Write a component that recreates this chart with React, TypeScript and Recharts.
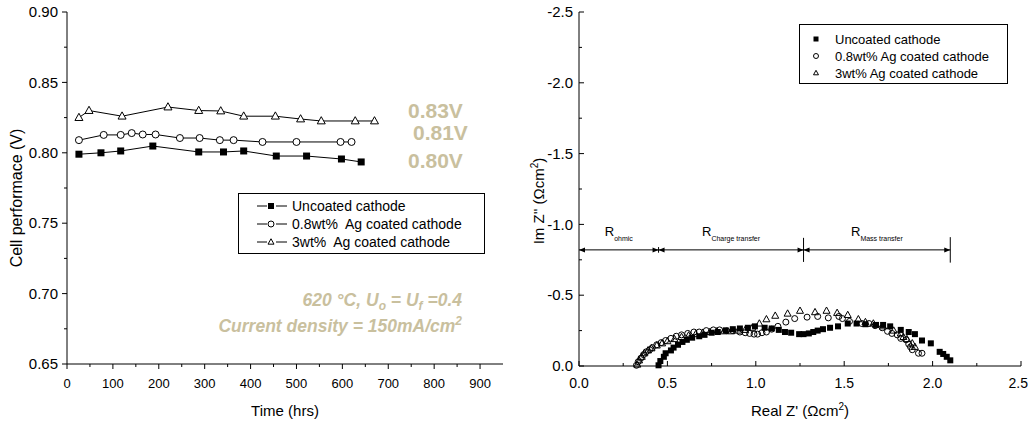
import React from 'react';
import { ScatterChart, Scatter, XAxis, YAxis, ReferenceLine, Legend } from 'recharts';

const FONT = '"Liberation Sans", Arial, Helvetica, sans-serif';
const TAN = '#c9c09e';
const INK = '#000';

// ---- left panel: cell voltage vs operating time ----
const uncoatedHours = [26, 74, 117, 187, 287, 341, 385, 456, 522, 598, 641];
const uncoatedVolts = [0.799, 0.8, 0.8013, 0.8048, 0.8006, 0.8006, 0.8013, 0.7977, 0.7977, 0.7956, 0.7935];
const ag08Hours = [26, 80, 117, 141, 165, 193, 246, 289, 333, 363, 426, 500, 596, 620];
const ag08Volts = [0.809, 0.8127, 0.8127, 0.814, 0.813, 0.813, 0.8105, 0.8105, 0.809, 0.809, 0.8077, 0.8077, 0.8077, 0.8077];
const ag3Hours = [26, 48, 120, 220, 287, 335, 385, 454, 509, 554, 628, 670];
const ag3Volts = [0.825, 0.83, 0.826, 0.8325, 0.83, 0.8297, 0.826, 0.826, 0.824, 0.8226, 0.8226, 0.8226];

const timeTicks = [0, 50, 100, 150, 200, 250, 300, 350, 400, 450, 500, 550, 600, 650, 700, 750, 800, 850, 900];
const voltTicks = [0.65, 0.675, 0.7, 0.725, 0.75, 0.775, 0.8, 0.825, 0.85, 0.875, 0.9];

// ---- right panel: impedance spectra ----
const uncoatedReal = [0.45, 0.46, 0.48, 0.49, 0.52, 0.535, 0.56, 0.585, 0.61, 0.64, 0.68, 0.71, 0.75, 0.785, 0.83, 0.87, 0.91, 0.955, 0.995, 1.05, 1.09, 1.13, 1.165, 1.2, 1.245, 1.27, 1.3, 1.325, 1.35, 1.38, 1.42, 1.465, 1.52, 1.57, 1.62, 1.68, 1.72, 1.76, 1.82, 1.865, 1.9, 1.94, 1.99, 2.04, 2.06, 2.08, 2.1];
const uncoatedImag = [-0.005, -0.035, -0.065, -0.09, -0.11, -0.13, -0.15, -0.17, -0.185, -0.2, -0.21, -0.22, -0.235, -0.24, -0.25, -0.26, -0.265, -0.27, -0.28, -0.27, -0.265, -0.255, -0.24, -0.235, -0.225, -0.225, -0.23, -0.24, -0.25, -0.26, -0.27, -0.28, -0.3, -0.3, -0.295, -0.29, -0.29, -0.28, -0.255, -0.24, -0.225, -0.18, -0.16, -0.1, -0.085, -0.065, -0.04];
const ag08Real = [0.325, 0.335, 0.35, 0.365, 0.38, 0.4, 0.415, 0.44, 0.465, 0.49, 0.52, 0.55, 0.58, 0.615, 0.65, 0.68, 0.72, 0.76, 0.795, 0.835, 0.87, 0.91, 0.94, 0.965, 0.99, 1.01, 1.035, 1.06, 1.09, 1.125, 1.17, 1.22, 1.29, 1.35, 1.41, 1.47, 1.49, 1.53, 1.6, 1.64, 1.675, 1.715, 1.745, 1.77, 1.8, 1.82, 1.85, 1.865, 1.875, 1.885, 1.92, 1.94];
const ag08Imag = [-0.005, -0.03, -0.055, -0.08, -0.1, -0.115, -0.13, -0.15, -0.165, -0.18, -0.195, -0.21, -0.22, -0.23, -0.24, -0.24, -0.25, -0.255, -0.255, -0.25, -0.25, -0.24, -0.235, -0.23, -0.225, -0.225, -0.235, -0.24, -0.26, -0.28, -0.31, -0.335, -0.345, -0.35, -0.34, -0.35, -0.335, -0.315, -0.3, -0.3, -0.285, -0.27, -0.245, -0.23, -0.22, -0.195, -0.185, -0.155, -0.135, -0.115, -0.09, -0.09];
const ag3Real = [0.33, 0.34, 0.355, 0.37, 0.39, 0.41, 0.44, 0.47, 0.5, 0.54, 0.58, 0.62, 0.66, 0.7, 0.74, 0.78, 0.82, 0.86, 0.9, 0.94, 0.98, 1.02, 1.06, 1.11, 1.18, 1.25, 1.335, 1.4, 1.46, 1.52, 1.58, 1.62, 1.665, 1.72, 1.78, 1.82, 1.835, 1.855, 1.885, 1.9];
const ag3Imag = [-0.01, -0.04, -0.065, -0.09, -0.11, -0.125, -0.145, -0.16, -0.175, -0.19, -0.205, -0.215, -0.225, -0.235, -0.24, -0.245, -0.245, -0.245, -0.25, -0.255, -0.27, -0.3, -0.33, -0.355, -0.37, -0.39, -0.38, -0.39, -0.375, -0.36, -0.33, -0.31, -0.3, -0.28, -0.25, -0.23, -0.205, -0.19, -0.16, -0.135];

const realTicks = [0, 0.25, 0.5, 0.75, 1, 1.25, 1.5, 1.75, 2, 2.25, 2.5];
const imagTicks = [-2.5, -2.25, -2, -1.75, -1.5, -1.25, -1, -0.75, -0.5, -0.25, 0];

// resistance spans drawn above the arcs
const spanEdges = [0, 0.45, 1.27, 2.1];
const spanNames = ['ohmic', 'Charge transfer', 'Mass transfer'];
const spanLevel = -0.82;
const boundaryTop = [-0.84, -0.905, -0.91];
const boundaryBottom = [-0.8, -0.735, -0.73];

const leftLegend = ['Uncoated cathode', '0.8wt%  Ag coated cathode', '3wt%  Ag coated cathode'];
const rightLegend = ['Uncoated cathode', '0.8wt% Ag coated cathode', '3wt% Ag coated cathode'];
const markKinds = ['square', 'circle', 'triangle'];

const toPoints = (xs: number[], ys: number[]) => xs.map((x, i) => ({ x, y: ys[i] }));

// marker glyphs
function Mark({ kind, cx, cy, size, fill = '#fff' }: { kind: string; cx: number; cy: number; size: number; fill?: string }) {
  if (kind === 'square') {
    return <rect x={cx - size / 2} y={cy - size / 2} width={size} height={size} fill={INK} />;
  }
  if (kind === 'circle') {
    return <circle cx={cx} cy={cy} r={size / 2} fill={fill} stroke={INK} strokeWidth={1} />;
  }
  const h = size * 0.9;
  return (
    <polygon
      points={`${cx},${cy - h * 0.6} ${cx - size / 2},${cy + h * 0.4} ${cx + size / 2},${cy + h * 0.4}`}
      fill={fill}
      stroke={INK}
      strokeWidth={1}
    />
  );
}

// ticks: recharts draws none (tickSize 0), we draw major/minor lines + labels here
type Side = 'bottom' | 'top' | 'left' | 'right';
function makeTick(
  side: Side,
  inward: boolean,
  isMajor: (v: number) => boolean,
  fmt: ((v: number) => string) | null,
  fontSize = 14,
  gap = 20,
  maxX = Infinity,
) {
  return (props: any) => {
    const { x, y, payload } = props;
    const v = payload.value as number;
    const major = isMajor(v);
    const len = major ? 5 : 3;
    const out = inward ? -1 : 1;
    if (side === 'bottom' || side === 'top') {
      const dir = side === 'bottom' ? out : -out;
      // keep the last label inside the picture
      const atEdge = x + fontSize * 0.7 > maxX;
      return (
        <g>
          <line x1={x} x2={x} y1={y} y2={y + dir * len} stroke={INK} strokeWidth={1} />
          {major && fmt && (
            <text
              x={atEdge ? maxX : x}
              y={y + gap}
              textAnchor={atEdge ? 'end' : 'middle'}
              fontFamily={FONT}
              fontSize={fontSize}
              fill={INK}
            >
              {fmt(v)}
            </text>
          )}
        </g>
      );
    }
    const dir = side === 'left' ? -out : out;
    return (
      <g>
        <line x1={x} x2={x + dir * len} y1={y} y2={y} stroke={INK} strokeWidth={1} />
        {major && fmt && (
          <text x={x - gap} y={y} dy="0.35em" textAnchor="end" fontFamily={FONT} fontSize={fontSize} fill={INK}>
            {fmt(v)}
          </text>
        )}
      </g>
    );
  };
}

const isHundred = (v: number) => Math.round(v) % 100 === 0;
const isFiveHundredths = (v: number) => Math.round(v * 1000) % 50 === 0;
const isHalf = (v: number) => Math.round(Math.abs(v) * 100) % 50 === 0;

function LegendBox({ names, width, height, rows, symX, textX, fontSize, withLines }: any) {
  return (
    <svg width={width} height={height} style={{ display: 'block' }}>
      <rect x={0.5} y={0.5} width={width - 1} height={height - 1} fill="#fff" stroke={INK} strokeWidth={1} />
      {names.map((name: string, i: number) => (
        <g key={name}>
          {withLines && (
            <>
              <line x1={symX - 14} x2={symX - 4} y1={rows[i]} y2={rows[i]} stroke={INK} strokeWidth={1} />
              <line x1={symX + 5} x2={symX + 16} y1={rows[i]} y2={rows[i]} stroke={INK} strokeWidth={1} />
            </>
          )}
          <Mark kind={markKinds[i]} cx={symX} cy={rows[i]} size={withLines ? 6 : 5} />
          <text x={textX} y={rows[i]} dy="0.35em" fontFamily={FONT} fontSize={fontSize} fill={INK} style={{ whiteSpace: 'pre' }}>
            {name}
          </text>
        </g>
      ))}
    </svg>
  );
}

function VoltagePanel() {
  const series = [toPoints(uncoatedHours, uncoatedVolts), toPoints(ag08Hours, ag08Volts), toPoints(ag3Hours, ag3Volts)];
  const sizes = [7, 7, 8];
  return (
    <div style={{ position: 'relative', width: 520, height: 425 }}>
      <ScatterChart width={520} height={425} margin={{ top: 12, right: 17, bottom: 0, left: 0 }}>
        <XAxis
          type="number"
          dataKey="x"
          domain={[0, 950]}
          ticks={timeTicks}
          interval={0}
          height={61}
          tickSize={0}
          tickMargin={0}
          stroke={INK}
          tick={makeTick('bottom', false, isHundred, (v) => String(v), 13, 24)}
          label={{
            content: ({ viewBox }: any) => (
              <text x={viewBox.x + viewBox.width / 2} y={viewBox.y + 52} textAnchor="middle" fontFamily={FONT} fontSize={15}>
                Time (hrs)
              </text>
            ),
          }}
        />
        <XAxis
          xAxisId="top"
          orientation="top"
          type="number"
          dataKey="x"
          domain={[0, 950]}
          ticks={timeTicks}
          interval={0}
          height={0}
          tickSize={0}
          tickMargin={0}
          stroke={INK}
          tick={makeTick('top', true, isHundred, null)}
        />
        <YAxis
          type="number"
          dataKey="y"
          domain={[0.65, 0.9]}
          ticks={voltTicks}
          interval={0}
          width={67}
          tickSize={0}
          tickMargin={0}
          stroke={INK}
          tick={makeTick('left', false, isFiveHundredths, (v) => v.toFixed(2), 15, 9)}
          label={{
            content: ({ viewBox }: any) => {
              const cx = 22;
              const cy = viewBox.y + viewBox.height / 2 + 10;
              return (
                <text x={cx} y={cy} transform={`rotate(-90 ${cx} ${cy})`} textAnchor="middle" fontFamily={FONT} fontSize={16}>
                  Cell performace (V)
                </text>
              );
            },
          }}
        />
        <YAxis
          yAxisId="right"
          orientation="right"
          type="number"
          dataKey="y"
          domain={[0.65, 0.9]}
          ticks={voltTicks}
          interval={0}
          width={0}
          tickSize={0}
          tickMargin={0}
          stroke={INK}
          tick={makeTick('right', true, isFiveHundredths, null)}
        />
        {series.map((pts, i) => (
          <Scatter
            key={markKinds[i]}
            data={pts}
            isAnimationActive={false}
            line={{ stroke: INK, strokeWidth: 1 }}
            shape={(p: any) => <Mark kind={markKinds[i]} cx={p.cx} cy={p.cy} size={sizes[i]} />}
          />
        ))}
        <Legend
          layout="horizontal"
          verticalAlign="middle"
          align="center"
          wrapperStyle={{ left: 238, top: 193, width: 247, height: 61 }}
          content={() => (
            <LegendBox names={leftLegend} width={247} height={61} rows={[13, 31, 49]} symX={33} textX={54} fontSize={14} withLines />
          )}
        />
      </ScatterChart>
      <svg width={520} height={425} style={{ position: 'absolute', left: 0, top: 0, pointerEvents: 'none' }}>
        <g fontFamily={FONT} fontWeight="bold" fill={TAN} fontSize={21}>
          <text x={408} y={118}>0.83V</text>
          <text x={413} y={140}>0.81V</text>
          <text x={408} y={168}>0.80V</text>
        </g>
        <g fontFamily={FONT} fontWeight="bold" fontStyle="italic" fill={TAN} fontSize={17.5} style={{ whiteSpace: 'pre' }}>
          <text x={462} y={306} textAnchor="end">
            620 °C,{'  '}U<tspan fontSize={12} dy={4}>o</tspan>
            <tspan dy={-4}>{' = U'}</tspan>
            <tspan fontSize={12} dy={4}>f</tspan>
            <tspan dy={-4}>{' =0.4'}</tspan>
          </text>
          <text x={462} y={332} textAnchor="end">
            Current density = 150mA/cm<tspan fontSize={12} dy={-7}>2</tspan>
          </text>
        </g>
      </svg>
    </div>
  );
}

const spanShape = (name: string) => (p: any) => {
  const { x1, y1, x2 } = p;
  const a = 6;
  const w = 2.5;
  return (
    <g>
      <line x1={x1} y1={y1} x2={x2} y2={y1} stroke={INK} strokeWidth={1} />
      <polygon points={`${x1},${y1} ${x1 + a},${y1 - w} ${x1 + a},${y1 + w}`} fill={INK} />
      <polygon points={`${x2},${y1} ${x2 - a},${y1 - w} ${x2 - a},${y1 + w}`} fill={INK} />
      <text x={(x1 + x2) / 2} y={y1 - 14} textAnchor="middle" fontFamily={FONT} fontSize={13} fill={INK}>
        R<tspan fontSize={7} dy={5}>{name}</tspan>
      </text>
    </g>
  );
};

function ImpedancePanel() {
  const series = [toPoints(uncoatedReal, uncoatedImag), toPoints(ag08Real, ag08Imag), toPoints(ag3Real, ag3Imag)];
  const sizes = [6, 6, 7];
  return (
    <ScatterChart width={509} height={425} margin={{ top: 12, right: 8, bottom: 0, left: 0 }}>
      <XAxis
        type="number"
        dataKey="x"
        domain={[0, 2.5]}
        ticks={realTicks}
        interval={0}
        height={59}
        tickSize={0}
        tickMargin={0}
        stroke={INK}
        tick={makeTick('bottom', true, isHalf, (v) => v.toFixed(1), 14, 22, 508)}
        label={{
          content: ({ viewBox }: any) => (
            <text x={viewBox.x + viewBox.width / 2} y={viewBox.y + 50} textAnchor="middle" fontFamily={FONT} fontSize={15}>
              Real Z' (Ωcm<tspan fontSize={10} dy={-6}>2</tspan>
              <tspan dy={6}>)</tspan>
            </text>
          ),
        }}
      />
      <XAxis
        xAxisId="top"
        orientation="top"
        type="number"
        dataKey="x"
        domain={[0, 2.5]}
        ticks={realTicks}
        interval={0}
        height={0}
        tickSize={0}
        tickMargin={0}
        stroke={INK}
        tick={makeTick('top', true, isHalf, null)}
      />
      <YAxis
        type="number"
        dataKey="y"
        domain={[-2.5, 0]}
        reversed
        ticks={imagTicks}
        interval={0}
        width={59}
        tickSize={0}
        tickMargin={0}
        stroke={INK}
        tick={makeTick('left', true, isHalf, (v) => v.toFixed(1), 15, 6)}
        label={{
          content: ({ viewBox }: any) => {
            const cx = 24;
            const cy = viewBox.y + viewBox.height / 2 + 12;
            return (
              <text x={cx} y={cy} transform={`rotate(-90 ${cx} ${cy})`} textAnchor="middle" fontFamily={FONT} fontSize={15}>
                Im Z'' (Ωcm<tspan fontSize={10} dy={-6}>2</tspan>
                <tspan dy={6}>)</tspan>
              </text>
            );
          },
        }}
      />
      <YAxis
        yAxisId="right"
        orientation="right"
        type="number"
        dataKey="y"
        domain={[-2.5, 0]}
        reversed
        ticks={imagTicks}
        interval={0}
        width={0}
        tickSize={0}
        tickMargin={0}
        stroke={INK}
        tick={makeTick('right', true, isHalf, null)}
      />
      {spanNames.map((name, i) => (
        <ReferenceLine
          key={name}
          segment={[
            { x: spanEdges[i], y: spanLevel },
            { x: spanEdges[i + 1], y: spanLevel },
          ]}
          shape={spanShape(name)}
        />
      ))}
      {spanEdges.slice(1).map((x, i) => (
        <ReferenceLine
          key={`edge-${x}`}
          segment={[
            { x, y: boundaryTop[i] },
            { x, y: boundaryBottom[i] },
          ]}
          stroke={INK}
          strokeWidth={1}
        />
      ))}
      {series.map((pts, i) => (
        <Scatter
          key={markKinds[i]}
          data={pts}
          isAnimationActive={false}
          shape={(p: any) => <Mark kind={markKinds[i]} cx={p.cx} cy={p.cy} size={sizes[i]} fill="none" />}
        />
      ))}
      <Legend
        layout="horizontal"
        verticalAlign="middle"
        align="center"
        wrapperStyle={{ left: 279, top: 24, width: 209, height: 60 }}
        content={() => (
          <LegendBox names={rightLegend} width={209} height={60} rows={[15, 32, 49]} symX={17} textX={36} fontSize={13} withLines={false} />
        )}
      />
    </ScatterChart>
  );
}

export default function App() {
  return (
    <div style={{ position: 'absolute', left: 0, top: 0, width: 1029, height: 425, background: '#fff', fontFamily: FONT }}>
      <div style={{ position: 'absolute', left: 0, top: 0 }}>
        <VoltagePanel />
      </div>
      <div style={{ position: 'absolute', left: 520, top: 0 }}>
        <ImpedancePanel />
      </div>
    </div>
  );
}
